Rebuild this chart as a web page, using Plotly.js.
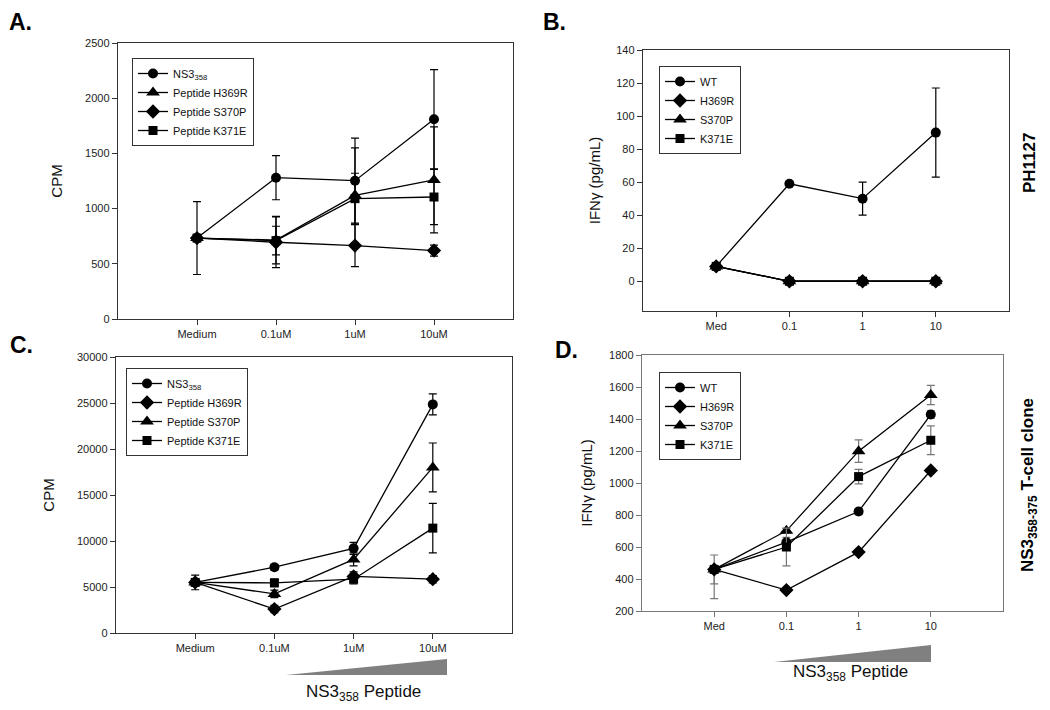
<!DOCTYPE html>
<html>
<head>
<meta charset="utf-8">
<script src="https://cdn.plot.ly/plotly-3.0.1.min.js"></script>
<style>
  html, body { margin: 0; padding: 0; background: #fff; }
  #fig { width: 1050px; height: 710px; }
</style>
</head>
<body>
<div id="fig"></div>
<script>
// --- data ---
const catsProlif = ['Medium', '0.1uM', '1uM', '10uM'];
const catsIfn = ['Med', '0.1', '1', '10'];

// A. proliferation, PH1127
const aNS3 = [733, 1280, 1253, 1809];
const aNS3Err = [330, 200, 385, 450];
const aH369R = [733, 715, 1120, 1260];
const aH369RErr = [0, 215, 430, 480];
const aS370P = [733, 695, 665, 620];
const aS370PErr = [0, 230, 190, 50];
const aK371E = [733, 710, 1090, 1105];
const aK371EErr = [0, 130, 230, 250];

// B. IFNg, PH1127
const bWT = [9, 59, 50, 90];
const bWTErr = [0, 0, 10, 27];
const bH369R = [9, 0, 0, 0];
const bS370P = [9, 0, 0, 0];
const bK371E = [9, 0, 0, 0];

// C. proliferation, T-cell clone
const cNS3 = [5500, 7150, 9200, 24850];
const cNS3Err = [800, 300, 650, 1150];
const cH369R = [5500, 2600, 6150, 5850];
const cH369RErr = [0, 400, 500, 400];
const cS370P = [5500, 4250, 8000, 18000];
const cS370PErr = [0, 400, 700, 2650];
const cK371E = [5500, 5450, 5850, 11400];
const cK371EErr = [0, 400, 500, 2700];

// D. IFNg, T-cell clone
const dWT = [460, 630, 822, 1428];
const dWTErr = [90, 30, 20, 25];
const dH369R = [460, 331, 568, 1078];
const dH369RErrMinus = [183, 0, 0, 0];
const dS370P = [460, 701, 1199, 1550];
const dS370PErr = [0, 15, 70, 60];
const dK371E = [460, 600, 1040, 1267];
const dK371EErr = [0, 118, 45, 90];

const FONT = 'Liberation Sans, Arial, sans-serif';
const W = 1050, H = 710;
const px = x => x / W;
const py = y => 1 - y / H;

const SIZES = { 'circle': 10, 'triangle-up': 12, 'diamond': 11, 'square': 9 };

function series(name, cats, ys, symbol, axisN, legendId, err, errMinus, errColor) {
  const xs = cats.map((_, i) => i + 1);
  const t = {
    x: xs, y: ys, name: name,
    type: 'scatter', mode: 'lines+markers',
    line: { color: '#000', width: 1.3 },
    marker: { symbol: symbol, color: '#000', size: SIZES[symbol] },
    xaxis: 'x' + (axisN === 1 ? '' : axisN),
    yaxis: 'y' + (axisN === 1 ? '' : axisN),
    legend: legendId,
    hoverinfo: 'skip'
  };
  if (err || errMinus) {
    t.error_y = {
      type: 'data',
      symmetric: !errMinus,
      array: err || ys.map(() => 0),
      arrayminus: errMinus || undefined,
      color: errColor || '#000',
      thickness: 1.2,
      width: 4
    };
  }
  return t;
}

const traces = [
  series('NS3<sub>358</sub>', catsProlif, aNS3, 'circle', 1, 'legend', aNS3Err),
  series('Peptide H369R', catsProlif, aH369R, 'triangle-up', 1, 'legend', aH369RErr),
  series('Peptide S370P', catsProlif, aS370P, 'diamond', 1, 'legend', aS370PErr),
  series('Peptide K371E', catsProlif, aK371E, 'square', 1, 'legend', aK371EErr),

  series('WT', catsIfn, bWT, 'circle', 2, 'legend2', bWTErr),
  series('H369R', catsIfn, bH369R, 'diamond', 2, 'legend2'),
  series('S370P', catsIfn, bS370P, 'triangle-up', 2, 'legend2'),
  series('K371E', catsIfn, bK371E, 'square', 2, 'legend2'),

  series('NS3<sub>358</sub>', catsProlif, cNS3, 'circle', 3, 'legend3', cNS3Err),
  series('Peptide H369R', catsProlif, cH369R, 'diamond', 3, 'legend3', cH369RErr),
  series('Peptide S370P', catsProlif, cS370P, 'triangle-up', 3, 'legend3', cS370PErr),
  series('Peptide K371E', catsProlif, cK371E, 'square', 3, 'legend3', cK371EErr),

  series('WT', catsIfn, dWT, 'circle', 4, 'legend4', dWTErr, null, '#777'),
  series('H369R', catsIfn, dH369R, 'diamond', 4, 'legend4', dH369R.map(() => 0), dH369RErrMinus, '#777'),
  series('S370P', catsIfn, dS370P, 'triangle-up', 4, 'legend4', dS370PErr, null, '#777'),
  series('K371E', catsIfn, dK371E, 'square', 4, 'legend4', dK371EErr, null, '#777')
];

function xAxis(cats, left, right, anchor, lineColor) {
  return {
    domain: [px(left), px(right)],
    anchor: anchor,
    range: [0, 5],
    tickmode: 'array',
    tickvals: cats.map((_, i) => i + 1),
    ticktext: cats,
    showgrid: false, zeroline: false,
    showline: true, mirror: true, linecolor: lineColor, linewidth: 1.2,
    ticks: 'outside', ticklen: 5, tickcolor: lineColor,
    tickfont: { family: FONT, size: 11, color: '#222' }
  };
}

function yAxis(title, top, bottom, range, dtick, anchor, lineColor, standoff) {
  return {
    domain: [py(bottom), py(top)],
    anchor: anchor,
    range: range,
    tick0: 0, dtick: dtick,
    tickformat: 'd',
    showgrid: false, zeroline: false,
    showline: true, mirror: true, linecolor: lineColor, linewidth: 1.2,
    ticks: 'outside', ticklen: 5, tickcolor: lineColor,
    tickfont: { family: FONT, size: 11, color: '#222' },
    title: { text: title, font: { family: FONT, size: 15, color: '#111' }, standoff: standoff }
  };
}

function legendAt(x, y) {
  return {
    x: px(x), y: py(y), xanchor: 'left', yanchor: 'top',
    xref: 'paper', yref: 'paper',
    bgcolor: '#fff', bordercolor: '#333', borderwidth: 1,
    font: { family: FONT, size: 11, color: '#111' },
    itemwidth: 30, tracegroupgap: 0
  };
}

function letter(text, x, y) {
  return {
    text: text, x: px(x), y: py(y), xref: 'paper', yref: 'paper',
    xanchor: 'left', yanchor: 'middle', showarrow: false,
    font: { family: FONT, size: 23, color: '#000', weight: 'bold' }
  };
}

const layout = {
  width: W, height: H,
  margin: { l: 0, r: 0, t: 0, b: 0 },
  paper_bgcolor: '#fff', plot_bgcolor: '#fff',
  showlegend: true,
  xaxis: xAxis(catsProlif, 118, 513, 'y', '#333'),
  yaxis: yAxis('CPM', 43, 319, [0, 2500], 500, 'x', '#333', 18),
  xaxis2: xAxis(catsIfn, 643, 1009, 'y2', '#333'),
  yaxis2: yAxis('IFN\u03b3 (pg/mL)', 50, 311, [-18, 140], 20, 'x2', '#333', 12),
  xaxis3: xAxis(catsProlif, 116, 512, 'y3', '#333'),
  yaxis3: yAxis('CPM', 357, 633, [0, 30000], 5000, 'x3', '#333', 18),
  xaxis4: xAxis(catsIfn, 642, 1003, 'y4', '#777'),
  yaxis4: yAxis('IFN\u03b3 (pg/mL)', 355, 611, [200, 1800], 200, 'x4', '#777', 12),
  legend: legendAt(132, 58),
  legend2: legendAt(659, 66),
  legend3: legendAt(126, 368),
  legend4: legendAt(659, 372),
  shapes: [
    { type: 'path', xref: 'paper', yref: 'paper',
      path: `M ${px(286)} ${py(675)} L ${px(447)} ${py(675)} L ${px(447)} ${py(659)} Z`,
      fillcolor: '#808080', line: { width: 0 } },
    { type: 'path', xref: 'paper', yref: 'paper',
      path: `M ${px(774)} ${py(662)} L ${px(931)} ${py(662)} L ${px(931)} ${py(645)} Z`,
      fillcolor: '#808080', line: { width: 0 } }
  ],
  annotations: [
    letter('A.', 7, 22),
    letter('B.', 541, 22),
    letter('C.', 8, 345),
    letter('D.', 553, 350),
    { text: 'NS3<sub>358</sub> Peptide', x: px(363), y: py(693), xref: 'paper', yref: 'paper',
      xanchor: 'center', yanchor: 'middle', showarrow: false,
      font: { family: FONT, size: 17, color: '#111' } },
    { text: 'NS3<sub>358</sub> Peptide', x: px(850), y: py(673), xref: 'paper', yref: 'paper',
      xanchor: 'center', yanchor: 'middle', showarrow: false,
      font: { family: FONT, size: 17, color: '#111' } },
    { text: 'PH1127', x: px(1029), y: py(163), xref: 'paper', yref: 'paper',
      xanchor: 'center', yanchor: 'middle', showarrow: false, textangle: -90,
      font: { family: FONT, size: 17, color: '#000', weight: 'bold' } },
    { text: 'NS3<sub>358-375</sub> T-cell clone', x: px(1029), y: py(485), xref: 'paper', yref: 'paper',
      xanchor: 'center', yanchor: 'middle', showarrow: false, textangle: -90,
      font: { family: FONT, size: 17, color: '#000', weight: 'bold' } }
  ]
};

Plotly.newPlot('fig', traces, layout, { displayModeBar: false, staticPlot: true });
</script>
</body>
</html>
